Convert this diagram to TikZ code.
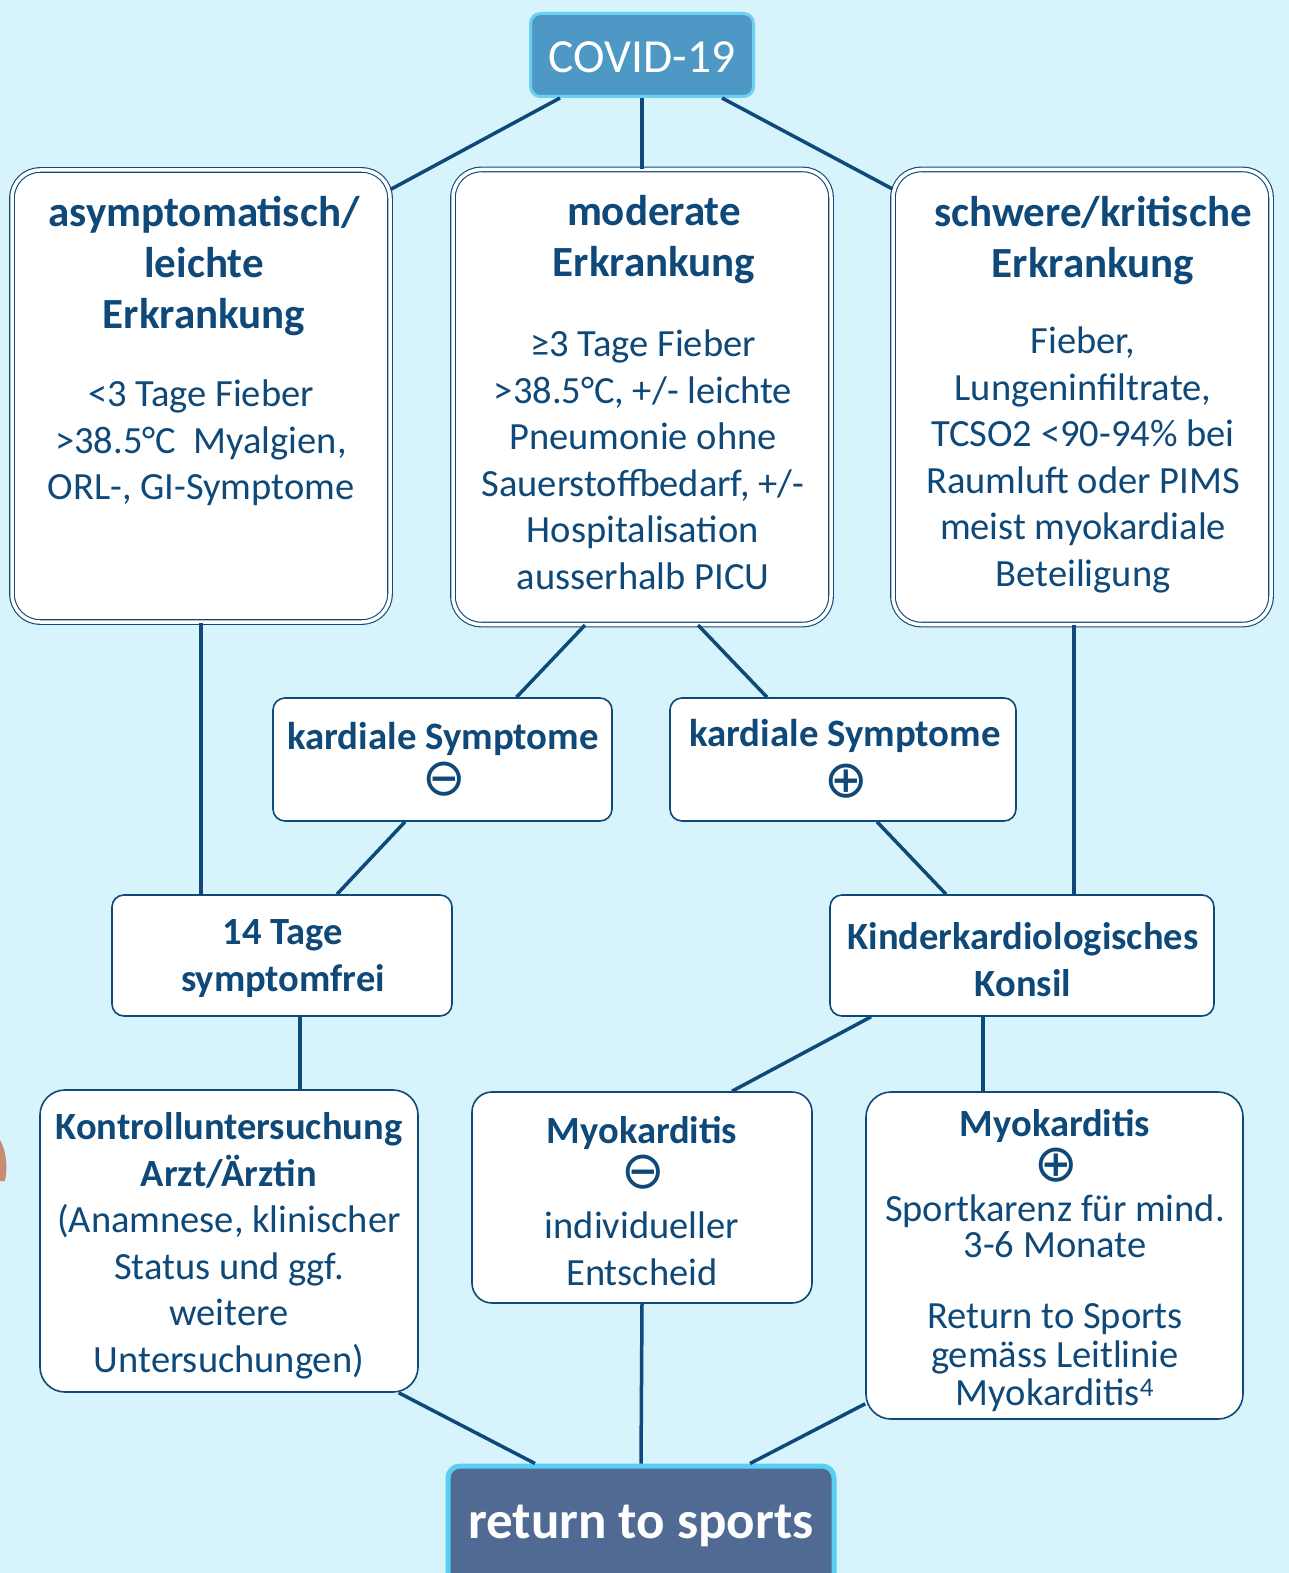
\documentclass[tikz,border=0pt]{standalone}
\usepackage{fontspec}
\setmainfont{Carlito}
\newfontfamily\symfont{DejaVu Sans}
\usetikzlibrary{calc}
\definecolor{covnavy}{RGB}{14,73,121}
\definecolor{covsky}{RGB}{215,243,252}
\definecolor{covfill}{RGB}{78,152,198}
\definecolor{covrim}{RGB}{108,208,242}
\definecolor{rtsfill}{RGB}{80,106,148}
\definecolor{rtsrim}{RGB}{88,206,243}
\definecolor{skin}{RGB}{200,140,115}

\begin{document}
\begin{tikzpicture}[
  x=1pt,y=-1pt,
  every node/.style={text=covnavy,inner sep=0pt},
  bigbox/.style={draw=covnavy,line width=1.1pt,double=white,double distance=3.5pt,fill=white,rounded corners=28pt},
  box/.style={draw=covnavy,line width=1.6pt,fill=white,rounded corners=12pt},
  link/.style={covnavy,line width=3.5pt},
  head/.style={font=\bfseries\fontsize{43}{51}\selectfont,align=center},
  body/.style={font=\fontsize{38.5}{46.5}\selectfont,align=center},
  sign/.style={font=\symfont\fontsize{52}{54}\selectfont}
]
\path[use as bounding box] (0,0) rectangle (1289,1573);
\clip (0,0) rectangle (1289,1573);
\fill[covsky] (0,0) rectangle (1289,1573);
\fill[skin] (0,1140) .. controls (6,1150) and (8,1166) .. (5,1181) -- (0,1181) -- cycle;

% Top: diagnosis and the three grades of illness
\node[fill=covfill,draw=covrim,line width=3pt,rounded corners=10pt,minimum width=223,minimum height=83] (covid) at (642,55) {};
\node[text=white,font=\fontsize{47.5}{50}\selectfont] (covidt) at (642,57) {COVID-19};

\node[bigbox,minimum width=378,minimum height=452] (asym) at (201,396) {};
\node[head] (asymh) at (204,266) {asymptomatisch/\\leichte\\Erkrankung};
\node[body] (asymb) at (201,443) {<3 Tage Fieber\\>38.5°C\ \ Myalgien,\\ORL-, GI-Symptome};

\node[bigbox,minimum width=378,minimum height=455] (mod) at (642,397) {};
\node[head] (modh) at (654,240) {moderate\\Erkrankung};
\node[body] (modb) at (643,460) {≥3 Tage Fieber\\>38.5°C, +/- leichte\\Pneumonie ohne\\Sauerstoffbedarf, +/-\\Hospitalisation\\ausserhalb PICU};

\node[bigbox,minimum width=378,minimum height=455] (sev) at (1082,397) {};
\node[head] (sevh) at (1093,241) {schwere/kritische\\Erkrankung};
\node[body] (sevb) at (1083,460) {Fieber,\\Lungeninfiltrate,\\TCSO2 <90-94\% bei\\Raumluft oder PIMS\\meist myokardiale\\Beteiligung};

% Middle: cardiac symptoms and the next steps
\node[box,minimum width=339,minimum height=123] (kneg) at (442.5,759.5) {};
\node[head,font=\bfseries\fontsize{38.8}{40}\selectfont] (knegt) at (443,739) {kardiale Symptome};
\node[sign] (knegs) at (444,779) {⊖};

\node[box,minimum width=346,minimum height=123] (kpos) at (843,759.5) {};
\node[head,font=\bfseries\fontsize{38.8}{40}\selectfont] (kpost) at (845,736) {kardiale Symptome};
\node[sign] (kposs) at (846,781) {⊕};

\node[box,minimum width=340,minimum height=121] (days) at (282,955.5) {};
\node[head,font=\bfseries\fontsize{38.5}{47}\selectfont] (dayst) at (283,959) {14 Tage\\symptomfrei};

\node[box,minimum width=384,minimum height=121] (konsil) at (1022,955.5) {};
\node[head,font=\bfseries\fontsize{38.5}{47}\selectfont] (konsilt) at (1023,960) {Kinderkardiologisches\\Konsil};

% Bottom: follow-up, myocarditis outcomes
\node[box,rounded corners=25pt,minimum width=378,minimum height=302] (ctrl) at (229,1241) {};
\node[body] (ctrlt) at (229,1246) {\textbf{Kontrolluntersuchung}\\\textbf{Arzt/Ärztin}\\(Anamnese, klinischer\\Status und ggf.\\weitere\\Untersuchungen)};

\node[box,rounded corners=20pt,minimum width=340,minimum height=211] (myoneg) at (642,1197.5) {};
\node[head,font=\bfseries\fontsize{38.5}{40}\selectfont] (myonegt) at (642,1133) {Myokarditis};
\node[sign] (myonegs) at (643,1172) {⊖};
\node[body] (myonegb) at (642,1249) {individueller\\Entscheid};

\node[box,rounded corners=25pt,minimum width=377,minimum height=327] (myopos) at (1054.5,1255.5) {};
\node[head,font=\bfseries\fontsize{38.5}{40}\selectfont] (myopost) at (1055,1126) {Myokarditis};
\node[sign] (myoposs) at (1056,1165) {⊕};
\node[body,font=\fontsize{38.5}{36}\selectfont] (myoposk) at (1055,1226) {Sportkarenz für mind.\\3-6 Monate};
\node[body,font=\fontsize{38.5}{38.5}\selectfont] (myoposb) at (1055,1358) {Return to Sports\\gemäss Leitlinie\\Myokarditis\textsuperscript{4}};

\node[fill=rtsfill,draw=rtsrim,line width=5pt,rounded corners=12pt,minimum width=386,minimum height=130] (rts) at (641,1531) {};
\node[text=white,font=\bfseries\fontsize{53}{58}\selectfont] (rtst) at (641,1526) {return to sports};

% Connectors
\draw[link] ([xshift=-82]covid.south) -- ([yshift=-20]asym.north east);
\draw[link] (covid.south) -- (mod.north);
\draw[link] ([xshift=80]covid.south) -- ([yshift=-20]sev.north west);
\draw[link] ([xshift=-57]mod.south) -- ([xshift=74]kneg.north);
\draw[link] ([xshift=56]mod.south) -- ([xshift=-76]kpos.north);
\draw[link] (asym.south) -- ([xshift=-81]days.north);
\draw[link] ([xshift=-37.5]kneg.south) -- ([xshift=55]days.north);
\draw[link] ([xshift=34]kpos.south) -- ([xshift=-76]konsil.north);
\draw[link] ([xshift=-8]sev.south) -- ([xshift=52]konsil.north);
\draw[link] ([xshift=18]days.south) -- ([xshift=71]ctrl.north);
\draw[link] ([xshift=-151]konsil.south) -- ([xshift=90]myoneg.north);
\draw[link] ([xshift=-39]konsil.south) -- ([xshift=-71.5]myopos.north);
\draw[link] ([xshift=-20]ctrl.south east) -- ([xshift=-106]rts.north);
\draw[link] (myoneg.south) -- (rts.north);
\draw[link] ([yshift=16]myopos.south west) -- ([xshift=109]rts.north);
\end{tikzpicture}
\end{document}
